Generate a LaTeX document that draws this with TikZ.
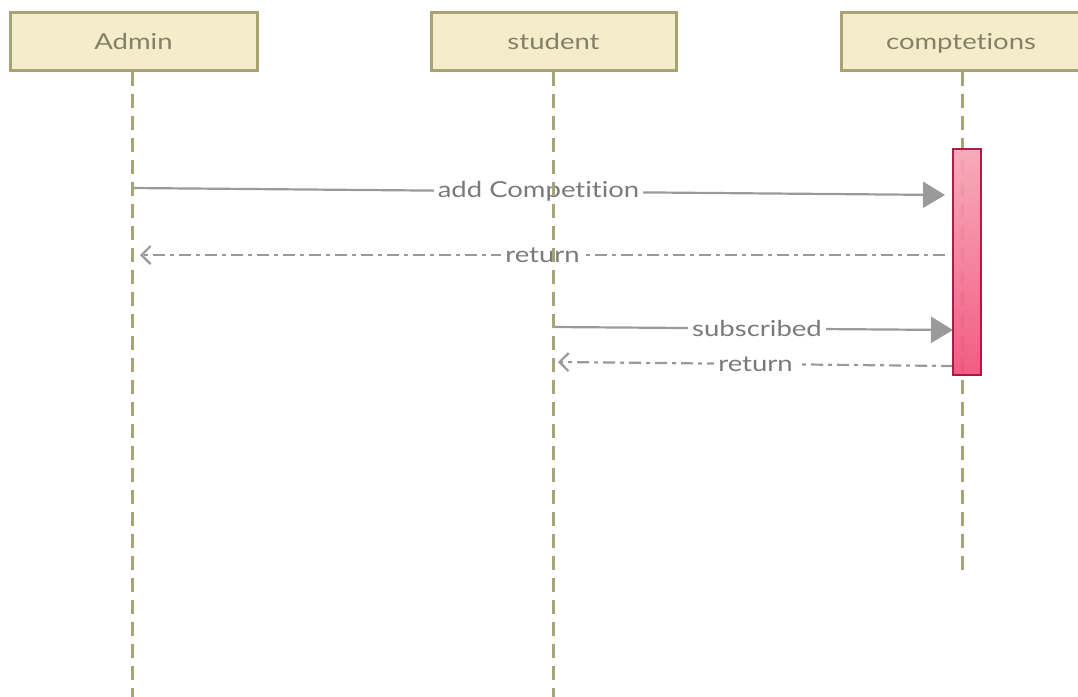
\documentclass[tikz,border=0pt]{standalone}
\usepackage{fontspec}
\setmainfont{Lato}[Ligatures={NoCommon,NoRare}]
\usetikzlibrary{arrows.meta}
\definecolor{boxfill}{HTML}{F4EDCB}
\definecolor{boxline}{HTML}{A8A274}
\definecolor{lifeln}{HTML}{A9A37A}
\definecolor{boxtxt}{HTML}{857F66}
\definecolor{msgline}{HTML}{9A9A9A}
\definecolor{msgtxt}{HTML}{7A7A7A}
\definecolor{actTop}{HTML}{F7A6B6}
\definecolor{actBot}{HTML}{F2507A}
\definecolor{actLine}{HTML}{A5123E}
\newcommand{\wtxt}[1]{\scalebox{1.25}[1]{#1}}
\tikzset{
  actor/.style={draw=boxline, line width=3pt, fill=boxfill, minimum height=58pt, text=boxtxt, font=\fontsize{22}{26}\selectfont, inner sep=0pt, text height=17pt, text depth=0pt},
  lifeline/.style={draw=lifeln, line width=3pt, dash pattern=on 14pt off 8pt},
  callmsg/.style={draw=msgline, line width=2.2pt, -{Triangle[length=22pt,width=26pt]}},
  retmsg/.style={draw=msgline, line width=2.2pt, dash pattern=on 12pt off 5pt on 4pt off 5pt, -{Straight Barb[length=9pt,width=18pt]}},
  msglabel/.style={fill=white, text=msgtxt, font=\fontsize{22}{26}\selectfont, inner sep=4pt},
  activation/.style={draw=actLine, line width=2.2pt, top color=actTop, bottom color=actBot, minimum width=28pt, minimum height=226pt, inner sep=0pt}
}
\begin{document}
\begin{tikzpicture}[x=1pt,y=-1pt]
\useasboundingbox[fill=white] (0,0) rectangle (1078,696);
% actors
\node[actor, minimum width=247pt] (admin) at (133.5,41) {\wtxt{Admin}};
\node[actor, minimum width=245pt] (student) at (553.5,41) {\wtxt{student}};
\node[actor, minimum width=240pt] (comp) at (961,41) {\wtxt{comptetions}};
% message anchors
\coordinate (m1s) at (132,188);
\coordinate (m1e) at (945,195);
\coordinate (r1s) at (945,255);
\coordinate (r1e) at (140,255);
\coordinate (m2s) at (553,327);
\coordinate (m2e) at (953,330);
\coordinate (r2s) at (953,366);
\coordinate (r2e) at (558,362);
\draw[callmsg] (m1s) -- node[msglabel, pos=0.5] {\wtxt{add Competition}} (m1e);
\draw[retmsg] (r1s) -- node[msglabel, pos=0.5] {\wtxt{return}} (r1e);
\draw[callmsg] (m2s) -- node[msglabel, pos=0.51] {\wtxt{subscribed}} (m2e);
\draw[retmsg] (r2s) -- node[msglabel, pos=0.5] {\wtxt{return}} (r2e);
% lifeline ends
\coordinate (adminEnd) at (132,700);
\coordinate (studentEnd) at (553,700);
\coordinate (compEnd) at (962,577);
\draw[lifeline] (admin.south -| adminEnd) -- (adminEnd);
\draw[lifeline] (student.south -| studentEnd) -- (studentEnd);
\draw[lifeline] (comp.south -| compEnd) -- (compEnd);
% activation
\node[activation, opacity=0.93] (act) at (967,262) {};
\end{tikzpicture}
\end{document}
